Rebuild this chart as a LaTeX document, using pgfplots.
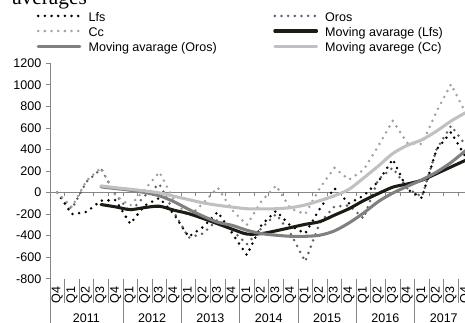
\documentclass[border=0pt]{standalone}
\usepackage{pgfplots}
\pgfplotsset{compat=1.18}
\usepackage{pgfplotstable}
\usepackage{fontspec}
\setmainfont{Liberation Sans}
\newfontfamily\titlefont{Liberation Serif}
\definecolor{axgray}{RGB}{134,134,134}
\definecolor{cLfs}{RGB}{0,0,0}
\definecolor{cOros}{RGB}{95,95,95}
\definecolor{cCc}{RGB}{160,160,160}
\definecolor{mLfs}{RGB}{30,27,20}
\definecolor{mOros}{RGB}{128,128,128}
\definecolor{mCc}{RGB}{192,192,192}

\pgfplotstableread{
i Lfs Oros Cc
0 0 0 0
1 -200 -150 -135
2 -180 100 110
3 -75 220 230
4 -70 -20 -30
5 -290 -180 -120
6 -120 -30 30
7 -50 80 190
8 -200 -180 -70
9 -410 -420 -225
10 -320 -380 -100
11 -180 -250 46
12 -380 -350 -165
13 -580 -480 -300
14 -300 -330 -80
15 -170 -200 65
16 -310 -380 -150
17 -380 -640 -200
18 -150 -280 40
19 40 -130 230
20 -100 -120 120
21 -30 -240 210
22 100 120 430
23 310 230 666
24 30 40 460
25 -50 -40 450
26 400 400 750
27 560 620 1006
28 330 440 740
}\raw

\pgfplotstableread{
i Lfs Oros Cc
3 -111 53 62
4 -133 37 45
5 -158 22 31
6 -139 0 15
7 -127 -30 -3
8 -164 -85 -34
9 -195 -155 -65
10 -241 -220 -96
11 -290 -275 -118
12 -340 -305 -135
13 -385 -350 -150
14 -381 -381 -152
15 -355 -396 -150
16 -325 -406 -140
17 -295 -406 -115
18 -270 -396 -75
19 -210 -356 -30
20 -150 -282 30
21 -75 -190 135
22 -10 -85 245
23 50 -5 362
24 80 58 438
25 115 118 490
26 176 190 570
27 238 280 664
28 300 390 742
}\mavg

\newcommand{\R}[1]{\rotatebox{90}{#1}}
\newcommand{\E}[1]{\makebox[138.5pt][l]{\rule[-3.1pt]{0pt}{12.9pt}#1}}

\begin{document}
\begin{tikzpicture}
\useasboundingbox (0,0) rectangle (348.75pt,242.25pt);
\clip (0,0) rectangle (348.75pt,242.25pt);
\node[anchor=base west, inner sep=0pt, font=\titlefont\fontsize{16}{18}\selectfont] at (9pt,238.9pt) {averages};
\begin{axis}[
  at={(37.5pt,33.2pt)}, anchor=south west,
  scale only axis, width=317.2pt, height=161.55pt,
  xmin=-0.5, xmax=28.5, ymin=-800, ymax=1200,
  clip=false,
  axis lines*=left,
  x axis line style={draw=none},
  y axis line style={draw=axgray, line width=0.6pt},
  xtick={0,...,28},
  xtick style={draw=none},
  xticklabels={\R{Q4},\R{Q1},\R{Q2},\R{Q3},\R{Q4},\R{Q1},\R{Q2},\R{Q3},\R{Q4},\R{Q1},\R{Q2},\R{Q3},\R{Q4},\R{Q1},\R{Q2},\R{Q3},\R{Q4},\R{Q1},\R{Q2},\R{Q3},\R{Q4},\R{Q1},\R{Q2},\R{Q3},\R{Q4},\R{Q1},\R{Q2},\R{Q3},\R{Q4}},
  xticklabel style={anchor=center, yshift=-9.2pt, inner sep=0pt},
  extra x ticks={2,6.5,10.5,14.5,18.5,22.5,26.5},
  extra x tick labels={2011,2012,2013,2014,2015,2016,2017},
  extra x tick style={xticklabel style={yshift=-17.3pt}},
  ytick={-800,-600,...,1200},
  ytick style={draw=axgray, line width=0.6pt},
  tick align=outside,
  major tick length=3pt,
  tick label style={font=\fontsize{9.4}{11}\selectfont},
  /pgf/number format/assume math mode=true,
  /pgf/number format/set thousands separator={},
  legend columns=2,
  legend cell align=left,
  legend style={at={(axis description cs:-0.0315,1.255)}, anchor=north west,
    draw=none, fill=none, inner sep=0pt, outer sep=0pt,
    font=\fontsize{9.4}{11}\selectfont,
    nodes={inner sep=0pt, outer sep=0pt},
    row sep=0pt, column sep=0pt},
  legend image code/.code={\pgfpathrectangle{\pgfpoint{0pt}{-1pt}}{\pgfpoint{37.8pt}{2pt}}\pgfusepath{discard}\draw[#1] (0pt,0pt) -- (31.3pt,0pt);},
  dotser/.style={line width=2.1pt, dash pattern=on 0pt off 5pt, line cap=round},
  mav/.style={line width=2.3pt, smooth, line cap=round},
]
\draw[axgray, line width=0.6pt] (axis cs:-0.5,0) -- (axis cs:28.5,0);
\pgfplotsinvokeforeach{0,...,29}{
  \draw[axgray, line width=0.6pt] (axis cs:#1-0.5,0) -- ++(0pt,-2.5pt);
  \draw[axgray, line width=0.6pt] (axis cs:#1-0.5,-800) -- ++(0pt,-18.2pt);
}
\pgfplotsinvokeforeach{-0.5,4.5,8.5,12.5,16.5,20.5,24.5,28.5}{
  \draw[axgray, line width=0.6pt] (axis cs:#1,-800) -- ++(0pt,-40pt);
}
\addplot[cLfs, dotser] table[x=i,y=Lfs] {\raw};
\addlegendentry{\E{Lfs}}
\addplot[cOros, dotser] table[x=i,y=Oros] {\raw};
\addlegendentry{\E{Oros}}
\addplot[cCc, dotser] table[x=i,y=Cc] {\raw};
\addlegendentry{\E{Cc}}
\addplot[mLfs, mav] table[x=i,y=Lfs] {\mavg};
\addlegendentry{\E{Moving avarage (Lfs)}}
\addplot[mOros, mav] table[x=i,y=Oros] {\mavg};
\addlegendentry{\E{Moving avarage (Oros)}}
\addplot[mCc, mav] table[x=i,y=Cc] {\mavg};
\addlegendentry{\E{Moving avarege (Cc)}}
\end{axis}
\end{tikzpicture}
\end{document}
